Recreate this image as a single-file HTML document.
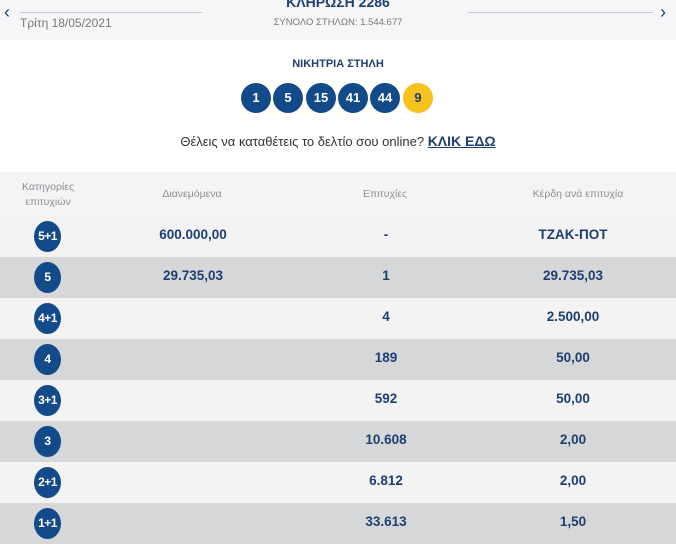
<!DOCTYPE html>
<html><head><meta charset="utf-8"><style>
*{margin:0;padding:0;box-sizing:border-box}
body{width:676px;height:544px;overflow:hidden;background:#fff;font-family:"Liberation Sans","DejaVu Sans",sans-serif;position:relative}
.a{position:absolute}
.top{left:0;top:0;width:676px;height:40px;background:#f5f6f8}
.line{height:1px;background:#c4c8cc}
.ball{position:absolute;width:30px;height:30px;border-radius:50%;background:#134a8a;color:#fff;font-weight:bold;font-size:13px;text-align:center;line-height:30px;top:83px}
.row{position:absolute;left:0;width:676px;height:41px}
.l{background:#f3f3f3}.d{background:#d5d7d9}
.badge{position:absolute;left:34px;top:5px;width:27px;height:31px;border-radius:50%;background:#134a8a;color:#fff;font-weight:bold;font-size:12px;text-align:center;line-height:31px;letter-spacing:-0.5px}
.c{position:absolute;top:11px;font-weight:bold;font-size:13.5px;color:#1d3f70;text-align:center;width:200px}
.h{position:absolute;font-size:10.5px;color:#8a8f95;text-align:center;width:200px}
</style></head><body>
<div class="a top"></div>
<div class="a" style="left:4px;top:2px;font-size:18px;color:#1d3f70">‹</div>
<div class="a line" style="left:20px;top:12px;width:182px"></div>
<div class="a" style="left:20px;top:16px;font-size:12px;color:#777">Τρίτη 18/05/2021</div>
<div class="a" style="left:238px;top:-6px;width:200px;text-align:center;font-weight:bold;font-size:14px;color:#1d3f70">ΚΛΗΡΩΣΗ 2286</div>
<div class="a" style="left:238px;top:17px;width:200px;text-align:center;font-size:9.5px;color:#777">ΣΥΝΟΛΟ ΣΤΗΛΩΝ: 1.544.677</div>
<div class="a line" style="left:468px;top:12px;width:185px"></div>
<div class="a" style="left:660px;top:2px;font-size:18px;color:#1d3f70">›</div>
<div class="a" style="left:238px;top:58px;width:200px;text-align:center;font-weight:bold;font-size:11px;color:#1d3f70">ΝΙΚΗΤΡΙΑ ΣΤΗΛΗ</div>
<div class="ball" style="left:241px">1</div>
<div class="ball" style="left:273px">5</div>
<div class="ball" style="left:306px">15</div>
<div class="ball" style="left:338px">41</div>
<div class="ball" style="left:370px">44</div>
<div class="ball" style="left:403px;background:#f7c11e;color:#1d3f70">9</div>
<div class="a" style="left:0;top:133px;width:676px;text-align:center;font-size:13px;color:#333">Θέλεις να καταθέτεις το δελτίο σου online? <b style="color:#1d3f70;text-decoration:underline;font-size:14px">ΚΛΙΚ ΕΔΩ</b></div>
<div class="row" style="top:172px;height:44px;background:#f4f4f4">
<div class="h" style="left:-52px;top:8px;line-height:15px">Κατηγορίες<br>επιτυχιών</div>
<div class="h" style="left:92px;top:16px">Διανεμόμενα</div>
<div class="h" style="left:285px;top:16px">Επιτυχίες</div>
<div class="h" style="left:478px;top:16px">Κέρδη ανά επιτυχία</div>
</div>
<div class="row l" style="top:216px"><div class="badge">5+1</div><div class="c" style="left:93px">600.000,00</div><div class="c" style="left:286px">-</div><div class="c" style="left:473px">ΤΖΑΚ-ΠΟΤ</div></div>
<div class="row d" style="top:257px"><div class="badge">5</div><div class="c" style="left:93px">29.735,03</div><div class="c" style="left:286px">1</div><div class="c" style="left:473px">29.735,03</div></div>
<div class="row l" style="top:298px"><div class="badge">4+1</div><div class="c" style="left:286px">4</div><div class="c" style="left:473px">2.500,00</div></div>
<div class="row d" style="top:339px"><div class="badge">4</div><div class="c" style="left:286px">189</div><div class="c" style="left:473px">50,00</div></div>
<div class="row l" style="top:380px"><div class="badge">3+1</div><div class="c" style="left:286px">592</div><div class="c" style="left:473px">50,00</div></div>
<div class="row d" style="top:421px"><div class="badge">3</div><div class="c" style="left:286px">10.608</div><div class="c" style="left:473px">2,00</div></div>
<div class="row l" style="top:462px"><div class="badge">2+1</div><div class="c" style="left:286px">6.812</div><div class="c" style="left:473px">2,00</div></div>
<div class="row d" style="top:503px"><div class="badge">1+1</div><div class="c" style="left:286px">33.613</div><div class="c" style="left:473px">1,50</div></div>
</body></html>
